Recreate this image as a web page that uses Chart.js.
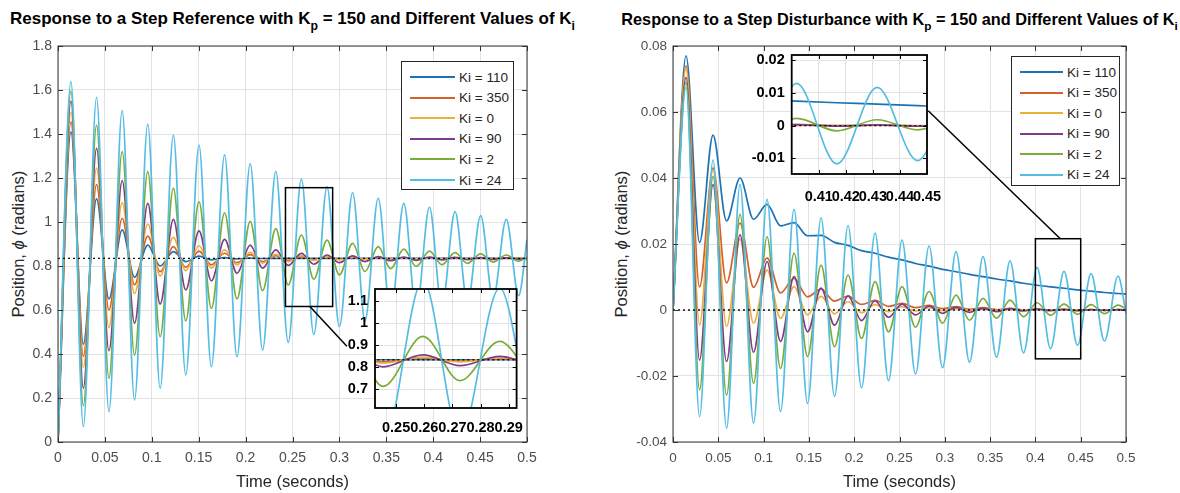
<!DOCTYPE html>
<html>
<head>
<meta charset="utf-8">
<script src="https://cdn.jsdelivr.net/npm/chart.js@4.4.1/dist/chart.umd.min.js"></script>
<style>
    body {
        margin: 0;
        width: 1180px;
        height: 493px;
        overflow: hidden;
        position: relative;
        background: #fff;
        font-family: "Liberation Sans", Arial, sans-serif;
    }

    canvas {
        position: absolute;
    }

    .title {
        position: absolute;
        text-align: center;
        font-weight: bold;
        color: #000;
        white-space: nowrap;
        line-height: 20px;
    }

    .title sub {
        font-size: 72%;
        vertical-align: -0.45em;
        line-height: 0;
    }

    .ylabel {
        position: absolute;
        top: 244px;
        white-space: nowrap;
        font-size: 16.5px;
        color: #262626;
        transform: translate(-50%, -50%) rotate(-90deg);
    }

    .legend {
        position: absolute;
        box-sizing: border-box;
        background: #fff;
        border: 1px solid #262626;
        z-index: 2;
    }

    .legend .row {
        position: absolute;
        left: 0;
        height: 20px;
        display: flex;
        align-items: center;
        color: #262626;
        white-space: nowrap;
    }

    .legend .swatch {
        height: 2px;
        margin-right: 4px;
    }
</style>
</head>
<body>

<div class="title" style="left: 2px; width: 581px; top: 9px; font-size: 17px;">Response to a Step Reference with K<sub>p</sub> = 150 and Different Values of K<sub>i</sub></div>
<div class="title" style="left: 604px; width: 591px; top: 9px; font-size: 16.3px;">Response to a Step Disturbance with K<sub>p</sub> = 150 and Different Values of K<sub>i</sub></div>

<div class="ylabel" style="left: 18px;">Position, <i>ϕ</i> (radians)</div>
<div class="ylabel" style="left: 621px;">Position, <i>ϕ</i> (radians)</div>

<canvas id="refChart" width="590" height="493" style="left: 0; top: 0;"></canvas>
<canvas id="distChart" width="590" height="493" style="left: 590px; top: 0;"></canvas>
<canvas id="refZoomChart" width="205" height="160" style="left: 330px; top: 280px;"></canvas>
<canvas id="distZoomChart" width="205" height="166" style="left: 740px; top: 44px;"></canvas>

<div class="legend" id="refLegend" style="left: 401px; top: 61px; width: 113px; height: 129px;"></div>
<div class="legend" id="distLegend" style="left: 1011px; top: 56px; width: 109px; height: 130px;"></div>

<script>
// ---- step reference (left) : samples at t = 0, each peak / trough, t = 0.5
const refTime = [
    0, 0.0138, 0.027, 0.0411, 0.0543, 0.0684, 0.0816, 0.0957, 0.1089, 0.123,
    0.1362, 0.1503, 0.1635, 0.1776, 0.1908, 0.2049, 0.2181, 0.2322, 0.2454, 0.2595,
    0.2727, 0.2868, 0.3, 0.3141, 0.3273, 0.3414, 0.3546, 0.3687, 0.3819, 0.396,
    0.4092, 0.4233, 0.4365, 0.4506, 0.4638, 0.4779, 0.4911, 0.5
];
const refKi110 = [
    0, 1.41, 0.445, 1.105, 0.65, 0.964, 0.749, 0.895, 0.8, 0.865,
    0.82, 0.845, 0.828, 0.838, 0.832, 0.836, 0.834, 0.835, 0.835, 0.835,
    0.835, 0.835, 0.835, 0.835, 0.835, 0.835, 0.835, 0.835, 0.835, 0.835,
    0.835, 0.835, 0.835, 0.835, 0.835, 0.835, 0.835, 0.835
];
const refKi350 = [
    0, 1.455, 0.39, 1.17, 0.6, 1.017, 0.715, 0.936, 0.774, 0.888,
    0.794, 0.868, 0.805, 0.858, 0.815, 0.852, 0.82, 0.847, 0.825, 0.843,
    0.828, 0.84, 0.83, 0.839, 0.831, 0.838, 0.832, 0.837, 0.832, 0.837,
    0.833, 0.836, 0.833, 0.836, 0.834, 0.836, 0.834, 0.835
];
const refKi0 = [
    0, 1.5, 0.34, 1.245, 0.52, 1.088, 0.675, 0.991, 0.755, 0.93,
    0.779, 0.892, 0.79, 0.873, 0.805, 0.862, 0.813, 0.853, 0.82, 0.847,
    0.825, 0.843, 0.828, 0.84, 0.83, 0.839, 0.831, 0.838, 0.832, 0.837,
    0.832, 0.837, 0.833, 0.836, 0.833, 0.836, 0.834, 0.835
];
const refKi90 = [
    0, 1.55, 0.245, 1.335, 0.415, 1.188, 0.54, 1.085, 0.627, 1.012,
    0.691, 0.96, 0.733, 0.921, 0.767, 0.895, 0.79, 0.873, 0.803, 0.857,
    0.808, 0.85, 0.815, 0.846, 0.82, 0.843, 0.824, 0.841, 0.826, 0.84,
    0.828, 0.839, 0.829, 0.838, 0.83, 0.837, 0.831, 0.835
];
const refKi2 = [
    0, 1.595, 0.165, 1.44, 0.29, 1.32, 0.395, 1.229, 0.479, 1.153,
    0.551, 1.092, 0.608, 1.042, 0.65, 1.003, 0.688, 0.97, 0.714, 0.941,
    0.74, 0.918, 0.76, 0.903, 0.775, 0.888, 0.788, 0.877, 0.798, 0.868,
    0.806, 0.861, 0.812, 0.855, 0.818, 0.85, 0.822, 0.84
];
const refKi24 = [
    0, 1.638, 0.07, 1.567, 0.138, 1.506, 0.19, 1.445, 0.244, 1.395,
    0.305, 1.35, 0.342, 1.305, 0.388, 1.265, 0.418, 1.23, 0.453, 1.195,
    0.489, 1.16, 0.524, 1.133, 0.552, 1.108, 0.573, 1.085, 0.594, 1.067,
    0.613, 1.047, 0.632, 1.029, 0.649, 1.012, 0.665, 0.92
];
const refSetpoint = 0.835;

const refTimeTicks = [0, 0.05, 0.1, 0.15, 0.2, 0.25, 0.3, 0.35, 0.4, 0.45, 0.5];
const refPosTicks = [0, 0.2, 0.4, 0.6, 0.8, 1, 1.2, 1.4, 1.6, 1.8];
const refZoomTimeTicks = [0.25, 0.26, 0.27, 0.28, 0.29];
const refZoomPosTicks = [0.7, 0.8, 0.9, 1, 1.1];
const refZoomTime = [0.2425, 0.2928];
const refZoomPos = [0.616, 1.156];
const refLeader = [[0.2685, 0.616], [0.308, 0.435]];

// ---- step disturbance (right)
const distTime = [
    0, 0.0144, 0.0293, 0.0442, 0.0591, 0.074, 0.0889, 0.1038, 0.1187, 0.1336,
    0.1485, 0.1634, 0.1783, 0.1932, 0.2081, 0.223, 0.2379, 0.2528, 0.2677, 0.2826,
    0.2975, 0.3124, 0.3273, 0.3422, 0.3571, 0.372, 0.3869, 0.4018, 0.4167, 0.4316,
    0.4465, 0.4614, 0.4763, 0.4912, 0.5
];
const distKi110 = [
    0, 0.077, 0.0205, 0.053, 0.027, 0.04, 0.0275, 0.032, 0.0255, 0.0265,
    0.0225, 0.0226, 0.0205, 0.0196, 0.018, 0.0172, 0.016, 0.0152, 0.0141, 0.0133,
    0.0123, 0.0116, 0.0108, 0.0101, 0.0094, 0.0088, 0.0081, 0.0075, 0.007, 0.0066,
    0.0061, 0.0057, 0.0053, 0.005, 0.0048
];
const distKi350 = [
    0, 0.074, 0.007, 0.043, 0.0082, 0.0263, 0.0069, 0.0157, 0.0052, 0.0096,
    0.004, 0.0063, 0.0027, 0.0042, 0.0017, 0.0029, 0.0011, 0.002, 0.0007, 0.0014,
    0.0004, 0.001, 0.0002, 0.0007, 0.0001, 0.0005, 0, 0.0003, 0, 0.0002,
    -0.0001, 0.0001, -0.0001, 0.0001, 0
];
const distKi0 = [
    0, 0.0735, -0.0045, 0.0425, -0.005, 0.0215, -0.004, 0.0121, -0.0025, 0.0071,
    -0.0015, 0.0041, -0.0012, 0.0025, -0.0008, 0.0016, -0.0005, 0.001, -0.0003, 0.0006,
    -0.0002, 0.0004, -0.0001, 0.0003, -0.0001, 0.0002, 0, 0.0001, 0, 0.0001,
    0, 0.0001, 0, 0, 0
];
const distKi90 = [
    0, 0.0705, -0.0152, 0.038, -0.0156, 0.0228, -0.0128, 0.0147, -0.0095, 0.0101,
    -0.0066, 0.0066, -0.0046, 0.0043, -0.0032, 0.0028, -0.0022, 0.0018, -0.0015, 0.0012,
    -0.001, 0.0008, -0.0007, 0.0005, -0.0005, 0.0004, -0.0003, 0.0003, -0.0002, 0.0002,
    -0.0002, 0.0001, -0.0001, 0.0001, 0
];
const distKi2 = [
    0, 0.069, -0.0242, 0.0405, -0.0258, 0.029, -0.0222, 0.0222, -0.0177, 0.0172,
    -0.0141, 0.0136, -0.0111, 0.0106, -0.0086, 0.0086, -0.0066, 0.0071, -0.0052, 0.0056,
    -0.004, 0.0045, -0.0031, 0.0035, -0.0025, 0.003, -0.002, 0.0022, -0.0016, 0.0018,
    -0.0013, 0.0016, -0.0011, 0.0015, 0.0003
];
const distKi24 = [
    0, 0.0675, -0.0323, 0.0455, -0.0358, 0.038, -0.0343, 0.0335, -0.0308, 0.0305,
    -0.0283, 0.0279, -0.0262, 0.0256, -0.0236, 0.0233, -0.0214, 0.0212, -0.0194, 0.0194,
    -0.0175, 0.0177, -0.0158, 0.0162, -0.0143, 0.0149, -0.013, 0.0129, -0.0117, 0.0117,
    -0.0107, 0.011, -0.0094, 0.0103, -0.001
];
const distSetpoint = 0;

const distTimeTicks = [0, 0.05, 0.1, 0.15, 0.2, 0.25, 0.3, 0.35, 0.4, 0.45, 0.5];
const distPosTicks = [-0.04, -0.02, 0, 0.02, 0.04, 0.06, 0.08];
const distZoomTimeTicks = [0.41, 0.42, 0.43, 0.44, 0.45];
const distZoomPosTicks = [-0.01, 0, 0.01, 0.02];
const distZoomTime = [0.4, 0.45];
const distZoomPos = [-0.0148, 0.0216];
const distLeader = [[0.2817, 0.0604], [0.4275, 0.0216]];

const kiLabels = ["Ki = 110", "Ki = 350", "Ki = 0", "Ki = 90", "Ki = 2", "Ki = 24"];
const kiColors = ["#1b73b6", "#d4602b", "#e9b13c", "#7f3a8f", "#79ad3b", "#55bde4"];

const FONT = "'Liberation Sans', Arial, sans-serif";
const GRID = "#e2e2e2";
const AXIS = "#333333";

Chart.defaults.font.family = FONT;

// box around the axes, inward tick marks, optional zoom box + leader line
const framePlugin = {
    id: "frame",
    defaults: { color: AXIS, lineWidth: 1, tick: 5, background: null, zoom: null },
    beforeDraw(chart, args, opts) {
        if (!opts.background) return;
        const a = chart.chartArea;
        chart.ctx.save();
        chart.ctx.fillStyle = opts.background;
        chart.ctx.fillRect(a.left, a.top, a.width, a.height);
        chart.ctx.restore();
    },
    afterDatasetsDraw(chart, args, opts) {
        const { ctx, chartArea: a, scales: { x, y } } = chart;
        ctx.save();

        if (opts.zoom) {
            const z = opts.zoom;
            const x0 = x.getPixelForValue(z.x[0]);
            const x1 = x.getPixelForValue(z.x[1]);
            const y0 = y.getPixelForValue(z.y[0]);
            const y1 = y.getPixelForValue(z.y[1]);
            ctx.strokeStyle = "#000";
            ctx.lineWidth = 1.5;
            ctx.strokeRect(x0, y1, x1 - x0, y0 - y1);
            ctx.beginPath();
            ctx.moveTo(x.getPixelForValue(z.leader[0][0]), y.getPixelForValue(z.leader[0][1]));
            ctx.lineTo(x.getPixelForValue(z.leader[1][0]), y.getPixelForValue(z.leader[1][1]));
            ctx.stroke();
        }

        ctx.strokeStyle = opts.color;
        ctx.lineWidth = 1;
        ctx.beginPath();
        x.ticks.forEach(t => {
            const px = Math.round(x.getPixelForValue(t.value)) + 0.5;
            ctx.moveTo(px, a.bottom);
            ctx.lineTo(px, a.bottom - opts.tick);
            ctx.moveTo(px, a.top);
            ctx.lineTo(px, a.top + opts.tick);
        });
        y.ticks.forEach(t => {
            const py = Math.round(y.getPixelForValue(t.value)) + 0.5;
            ctx.moveTo(a.left, py);
            ctx.lineTo(a.left + opts.tick, py);
            ctx.moveTo(a.right, py);
            ctx.lineTo(a.right - opts.tick, py);
        });
        ctx.stroke();

        ctx.lineWidth = opts.lineWidth;
        ctx.strokeRect(a.left, a.top, a.width, a.height);
        ctx.restore();
    }
};
Chart.register(framePlugin);

function buildDatasets(times, seriesList, setpoint) {
    const sets = seriesList.map((vals, i) => ({
        label: kiLabels[i],
        data: times.map((t, k) => ({ x: t, y: vals[k] })),
        borderColor: kiColors[i],
        borderWidth: 1.7,
        pointRadius: 0,
        fill: false,
        cubicInterpolationMode: "monotone",
        clip: 0,
        order: seriesList.length - i
    }));

    sets.push({
        label: "setpoint",
        data: [
            { x: times[0], y: setpoint },
            { x: times[times.length - 1], y: setpoint }
        ],
        borderColor: "#111",
        borderWidth: 1.3,
        borderDash: [2, 3],
        pointRadius: 0,
        clip: 0,
        order: 0
    });

    return sets;
}

function tickLabel(value) {
    return String(value);
}

function makeMainChart(id, cfg) {
    return new Chart(document.getElementById(id), {
        type: "line",
        data: { datasets: buildDatasets(cfg.times, cfg.series, cfg.setpoint) },
        options: {
            responsive: false,
            animation: false,
            events: [],
            layout: { padding: { left: 0, right: cfg.padRight, top: 46, bottom: 0 } },
            plugins: {
                legend: { display: false },
                tooltip: { enabled: false },
                frame: { color: AXIS, lineWidth: 1, tick: 5, zoom: cfg.zoom }
            },
            scales: {
                x: {
                    type: "linear",
                    min: cfg.xTicks[0],
                    max: cfg.xTicks[cfg.xTicks.length - 1],
                    afterBuildTicks: s => { s.ticks = cfg.xTicks.map(v => ({ value: v })); },
                    afterFit: s => { s.height = 51; s.paddingLeft = 0; s.paddingRight = 0; },
                    grid: { color: GRID, drawTicks: false },
                    border: { display: false },
                    ticks: {
                        padding: 8,
                        color: "#4d4d4d",
                        font: { size: cfg.tickSize },
                        autoSkip: false,
                        maxRotation: 0,
                        callback: tickLabel
                    },
                    title: {
                        display: true,
                        text: "Time (seconds)",
                        color: "#262626",
                        font: { size: 16.5 },
                        padding: { top: 0, bottom: 1 }
                    }
                },
                y: {
                    type: "linear",
                    min: cfg.yTicks[0],
                    max: cfg.yTicks[cfg.yTicks.length - 1],
                    afterBuildTicks: s => { s.ticks = cfg.yTicks.map(v => ({ value: v })); },
                    afterFit: s => { s.width = cfg.yWidth; s.paddingTop = 0; s.paddingBottom = 0; },
                    grid: { color: GRID, drawTicks: false },
                    border: { display: false },
                    ticks: {
                        padding: 6,
                        color: "#4d4d4d",
                        font: { size: cfg.tickSize },
                        autoSkip: false,
                        callback: tickLabel
                    }
                }
            }
        }
    });
}

// zoomed view: range pinned after the data limits so every sample stays in the spline
function makeZoomChart(id, cfg) {
    return new Chart(document.getElementById(id), {
        type: "line",
        data: { datasets: buildDatasets(cfg.times, cfg.series, cfg.setpoint) },
        options: {
            responsive: false,
            animation: false,
            events: [],
            layout: { padding: { left: 0, right: cfg.padRight, top: cfg.padTop, bottom: 0 } },
            plugins: {
                legend: { display: false },
                tooltip: { enabled: false },
                frame: { color: "#000", lineWidth: 1.8, tick: 4, background: "#fff" }
            },
            scales: {
                x: {
                    type: "linear",
                    bounds: "data",
                    afterDataLimits: s => { s.min = cfg.xRange[0]; s.max = cfg.xRange[1]; },
                    afterBuildTicks: s => { s.ticks = cfg.xTicks.map(v => ({ value: v })); },
                    afterFit: s => { s.height = cfg.xHeight; s.paddingLeft = 0; s.paddingRight = 0; },
                    grid: { color: GRID, drawTicks: false },
                    border: { display: false },
                    ticks: {
                        padding: cfg.xLabelPad,
                        color: "#000",
                        font: { size: 14.5, weight: "bold" },
                        autoSkip: false,
                        maxRotation: 0,
                        callback: tickLabel
                    }
                },
                y: {
                    type: "linear",
                    bounds: "data",
                    afterDataLimits: s => { s.min = cfg.yRange[0]; s.max = cfg.yRange[1]; },
                    afterBuildTicks: s => { s.ticks = cfg.yTicks.map(v => ({ value: v })); },
                    afterFit: s => { s.width = cfg.yWidth; s.paddingTop = 0; s.paddingBottom = 0; },
                    grid: { color: GRID, drawTicks: false },
                    border: { display: false },
                    ticks: {
                        padding: 7,
                        color: "#000",
                        font: { size: 14.5, weight: "bold" },
                        autoSkip: false,
                        callback: tickLabel
                    }
                }
            }
        }
    });
}

function buildLegend(id, cfg) {
    const box = document.getElementById(id);
    kiLabels.forEach((label, i) => {
        const row = document.createElement("div");
        row.className = "row";
        row.style.top = (cfg.first + i * cfg.step - 10) + "px";
        row.style.fontSize = cfg.fontSize + "px";

        const swatch = document.createElement("span");
        swatch.className = "swatch";
        swatch.style.width = cfg.swatch + "px";
        swatch.style.marginLeft = cfg.indent + "px";
        swatch.style.background = kiColors[i];

        const text = document.createElement("span");
        text.textContent = label;

        row.appendChild(swatch);
        row.appendChild(text);
        box.appendChild(row);
    });
}

const refSeries = [refKi110, refKi350, refKi0, refKi90, refKi2, refKi24];
const distSeries = [distKi110, distKi350, distKi0, distKi90, distKi2, distKi24];

makeMainChart("refChart", {
    times: refTime,
    series: refSeries,
    setpoint: refSetpoint,
    xTicks: refTimeTicks,
    yTicks: refPosTicks,
    yWidth: 58,
    padRight: 63,
    tickSize: 14,
    zoom: { x: refZoomTime, y: refZoomPos, leader: refLeader }
});

makeMainChart("distChart", {
    times: distTime,
    series: distSeries,
    setpoint: distSetpoint,
    xTicks: distTimeTicks,
    yTicks: distPosTicks,
    yWidth: 83,
    padRight: 54,
    tickSize: 13.5,
    zoom: { x: distZoomTime, y: distZoomPos, leader: distLeader }
});

makeZoomChart("refZoomChart", {
    times: refTime,
    series: refSeries,
    setpoint: refSetpoint,
    xRange: refZoomTime,
    yRange: refZoomPos,
    xTicks: refZoomTimeTicks,
    yTicks: refZoomPosTicks,
    yWidth: 45,
    padRight: 18.4,
    padTop: 9,
    xHeight: 32,
    xLabelPad: 11
});

makeZoomChart("distZoomChart", {
    times: distTime,
    series: distSeries,
    setpoint: distSetpoint,
    xRange: distZoomTime,
    yRange: distZoomPos,
    xTicks: distZoomTimeTicks,
    yTicks: distZoomPosTicks,
    yWidth: 51.7,
    padRight: 18,
    padTop: 11,
    xHeight: 36,
    xLabelPad: 14
});

buildLegend("refLegend", { first: 15, step: 20.6, swatch: 45, indent: 8, fontSize: 13.5 });
buildLegend("distLegend", { first: 15, step: 20.5, swatch: 43, indent: 8, fontSize: 13.5 });
</script>
</body>
</html>
